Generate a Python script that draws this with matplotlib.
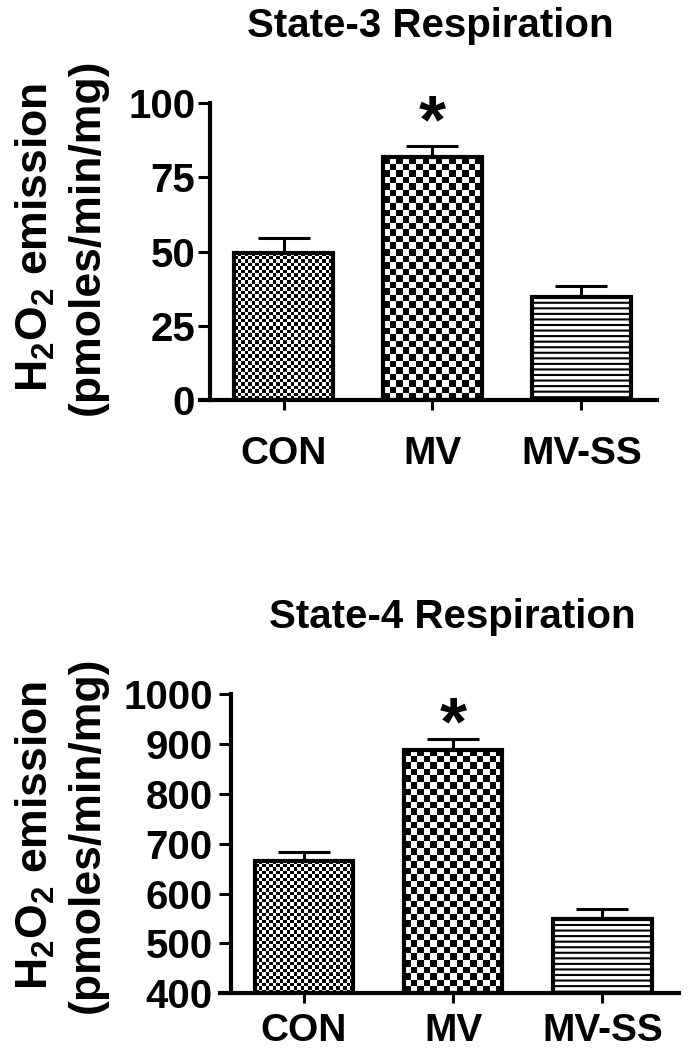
import numpy as np
import matplotlib.pyplot as plt

plt.rcParams['font.family'] = ['Liberation Sans', 'DejaVu Sans']
plt.rcParams['font.weight'] = 'bold'
plt.rcParams['mathtext.default'] = 'regular'
plt.rcParams['hatch.linewidth'] = 1.5

# data
groups = ['CON', 'MV', 'MV-SS']
state3_mean = [49.6, 81.8, 34.8]
state3_sem = [5.0, 3.6, 3.5]
state4_mean = [665, 888, 549]
state4_sem = [19, 22, 20]
state3_ticks = [0, 25, 50, 75, 100]
state4_ticks = [400, 500, 600, 700, 800, 900, 1000]
significant = [False, True, False]

# fill style per group: checker cell size in px, or None for stripes
fills = [3.5, 6.5, None]


def checker(ax, bar, cell_px):
    x0, y0 = bar.get_x(), bar.get_y()
    x1, y1 = x0 + bar.get_width(), y0 + bar.get_height()
    (px0, py0), (px1, py1) = ax.transData.transform([(x0, y0), (x1, y1)])
    nx = max(1, int(round((px1 - px0) / cell_px)))
    ny = max(1, int(round((py1 - py0) / cell_px)))
    i, j = np.indices((ny, nx))
    board = (i + j) % 2
    im = ax.imshow(board, cmap='gray', extent=(x0, x1, y0, y1), origin='lower',
                   interpolation='nearest', aspect='auto', zorder=1)
    im.set_clip_path(bar)
    im.set_clip_box(ax.bbox)


def panel(ax, means, sems, ticks, title, title_xy, star_off, xpad, ypad):
    x = np.arange(len(groups))
    ax.set_xlim(-0.56, 2.51)
    ax.set_ylim(ticks[0], ticks[-1])

    ax.errorbar(x, means, yerr=[np.zeros(len(means)), sems], fmt='none', ecolor='black',
                elinewidth=2.2, capsize=19, capthick=2.2, zorder=2)
    # bars start at the axis floor so the fill never leaks below the axis
    bars = ax.bar(x, np.array(means) - ticks[0], bottom=ticks[0], width=0.66,
                  facecolor='none', edgecolor='black', linewidth=3, zorder=3)
    for bar, f in zip(bars, fills):
        if f is None:
            bar.set_facecolor('white')
            bar.set_hatch('---')
        else:
            checker(ax, bar, f)

    for xi, m, s, sig in zip(x, means, sems, significant):
        if sig:
            ax.annotate('*', xy=(xi, m + s), xytext=(0, star_off), textcoords='offset points',
                        ha='center', va='baseline', fontsize=50, annotation_clip=False)

    ax.spines[['top', 'right']].set_visible(False)
    ax.spines['left'].set_position(('data', -0.49))
    ax.spines['left'].set_linewidth(3)
    ax.spines['bottom'].set_linewidth(3)
    ax.set_yticks(ticks)
    ax.set_xticks(x)
    ax.set_xticklabels(groups)
    ax.tick_params(axis='y', length=9, width=2.2, pad=ypad, labelsize=29)
    ax.tick_params(axis='x', length=7, width=2.2, pad=xpad, labelsize=28)
    ax.set_xlim(-0.56, 2.51)
    ax.set_ylim(ticks[0], ticks[-1])

    fig.text(title_xy[0], title_xy[1], title, ha='center', va='baseline', fontsize=29)


fig = plt.figure(figsize=(6.88, 10.5), dpi=100)
ax1 = fig.add_axes([0.2908, 0.6190, 0.6648, 0.2829])
ax2 = fig.add_axes([0.3203, 0.0540, 0.6660, 0.2848])

panel(ax1, state3_mean, state3_sem, state3_ticks, 'State-3 Respiration', (0.6257, 0.9648), 3.1, 19, 2)
panel(ax2, state4_mean, state4_sem, state4_ticks, 'State-4 Respiration', (0.657, 0.4019), -3.6, 7, 4)

ylab = 'H$_2$O$_2$ emission\n(pmoles/min/mg)'
fig.text(0.088, 0.7743, ylab, rotation=90, ha='center', va='center', fontsize=32,
         linespacing=1.32, multialignment='center')
fig.text(0.088, 0.2048, ylab, rotation=90, ha='center', va='center', fontsize=32,
         linespacing=1.32, multialignment='center')

fig.savefig('out.png', dpi=100)
